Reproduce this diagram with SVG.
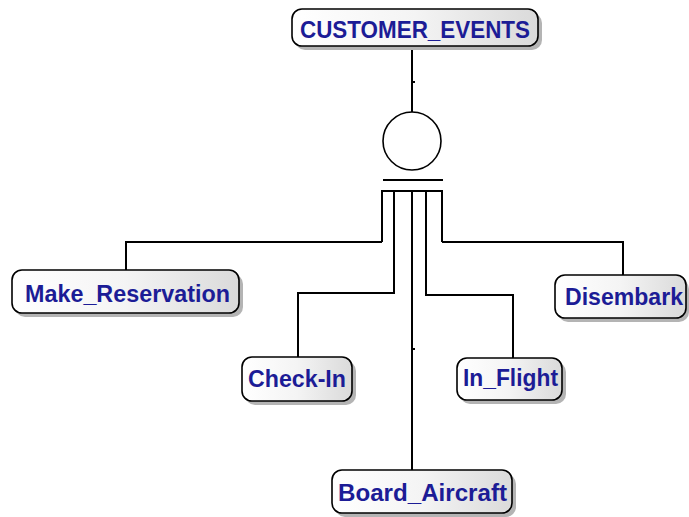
<svg xmlns="http://www.w3.org/2000/svg" width="689" height="517" viewBox="0 0 689 517">
<defs>
<linearGradient id="fill" x1="0" y1="0" x2="1" y2="0">
<stop offset="0" stop-color="#ffffff"/>
<stop offset="0.5" stop-color="#f4f4f4"/>
<stop offset="1" stop-color="#dadada"/>
</linearGradient>
<style>
.box{fill:url(#fill);stroke:#000;stroke-width:1.6}
.shadow{fill:#b4b4b4}
.lbl{font-family:"Liberation Sans",Arial,sans-serif;font-weight:bold;font-size:23.5px;fill:#1c1c96;text-anchor:middle}
.c{fill:none;stroke:#000;stroke-width:2}
</style>
</defs>
<rect width="689" height="517" fill="#fff"/>
<g id="connectors">
<line class="c" x1="412" y1="46" x2="412" y2="112"/>
<line class="c" x1="412" y1="82" x2="415" y2="82"/>
<circle cx="412" cy="141" r="29" fill="none" stroke="#000" stroke-width="1.6"/>
<line class="c" x1="383" y1="180" x2="443" y2="180"/>
<polyline class="c" points="382,242 382,191 442,191 442,242"/>
<polyline class="c" points="382,242 126,242 126,270"/>
<polyline class="c" points="442,242 623,242 623,275"/>
<polyline class="c" points="394,191 394,293 298,293 298,357"/>
<line class="c" x1="412" y1="191" x2="412" y2="470"/>
<line class="c" x1="412" y1="349" x2="415" y2="349"/>
<polyline class="c" points="426,191 426,295 513,295 513,358"/>
</g>
<g id="customer_events">
<rect class="shadow" x="295" y="13" width="247" height="37" rx="10"/>
<rect class="box" x="292" y="9" width="246" height="37" rx="10"/>
<text class="lbl" x="415" y="37.5" textLength="230" lengthAdjust="spacingAndGlyphs">CUSTOMER_EVENTS</text>
</g>
<g id="make_reservation">
<rect class="shadow" x="15" y="274" width="228" height="43" rx="10"/>
<rect class="box" x="12" y="270" width="227" height="43" rx="10"/>
<text class="lbl" x="127.5" y="301.5" textLength="205" lengthAdjust="spacingAndGlyphs">Make_Reservation</text>
</g>
<g id="disembark">
<rect class="shadow" x="558" y="279" width="131" height="43" rx="10"/>
<rect class="box" x="555" y="275" width="131" height="43" rx="10"/>
<text class="lbl" x="624" y="305" textLength="118" lengthAdjust="spacingAndGlyphs">Disembark</text>
</g>
<g id="check_in">
<rect class="shadow" x="245" y="361" width="111" height="44" rx="10"/>
<rect class="box" x="242" y="357" width="110" height="44" rx="10"/>
<text class="lbl" x="297" y="387" textLength="98" lengthAdjust="spacingAndGlyphs">Check-In</text>
</g>
<g id="in_flight">
<rect class="shadow" x="460" y="362" width="106" height="42" rx="10"/>
<rect class="box" x="457" y="358" width="105" height="42" rx="10"/>
<text class="lbl" x="510.5" y="386" textLength="95" lengthAdjust="spacingAndGlyphs">In_Flight</text>
</g>
<g id="board_aircraft">
<rect class="shadow" x="335" y="474" width="181" height="43" rx="10"/>
<rect class="box" x="332" y="470" width="180" height="43" rx="10"/>
<text class="lbl" x="422.5" y="501" textLength="169" lengthAdjust="spacingAndGlyphs">Board_Aircraft</text>
</g>
</svg>
